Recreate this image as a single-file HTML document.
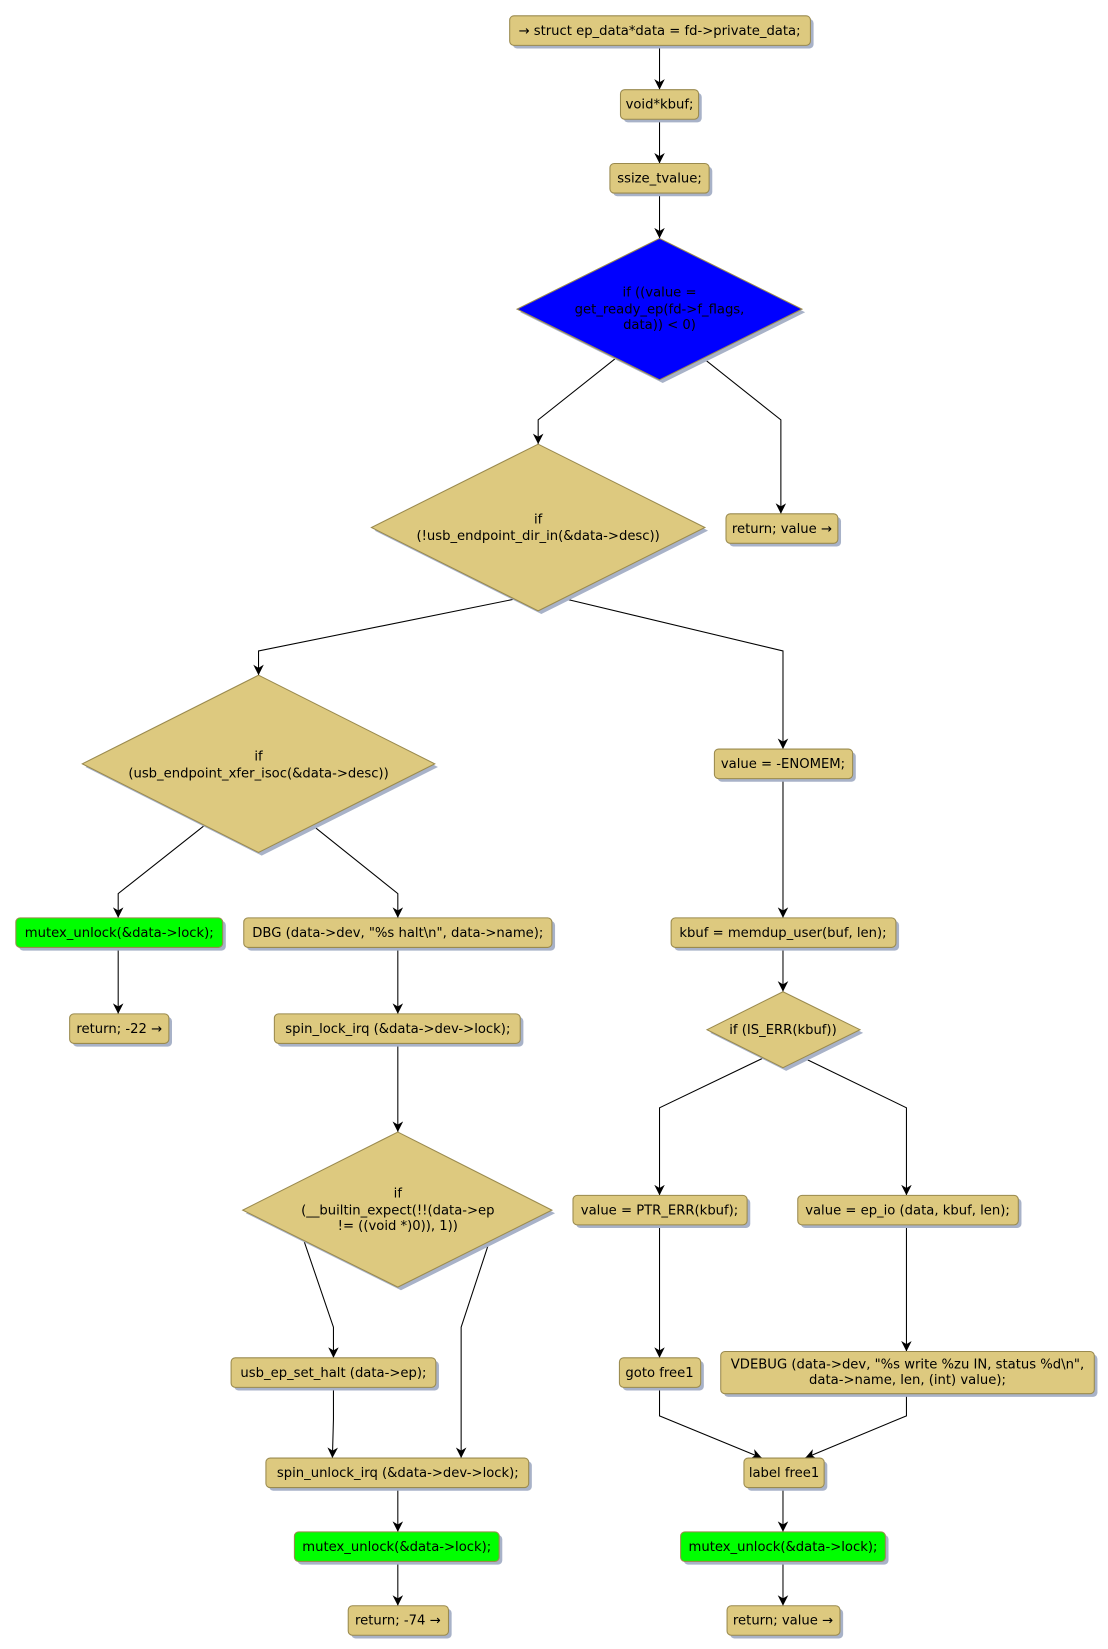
<!DOCTYPE html>
<html><head><meta charset="utf-8"><style>
html,body{margin:0;padding:0;background:#fff;}
svg{display:block;}
text{font-family:"DejaVu Sans","Liberation Sans",sans-serif;font-size:12.5px;fill:#000;text-anchor:middle;}
.b{fill:#ddc97f;stroke:#9a8a4e;stroke-width:1;}
.g{fill:#00ff00;stroke:#9a8a4e;stroke-width:1;}
.s{fill:#a8b2c8;}
.l{fill:none;stroke:#000;stroke-width:1;}
</style></head><body>
<svg width="1108" height="1649" viewBox="0 0 1050 1563" preserveAspectRatio="none" xmlns="http://www.w3.org/2000/svg">
<defs><marker id="a" markerWidth="12" markerHeight="12" refX="10" refY="5" orient="auto" markerUnits="userSpaceOnUse"><path d="M0,0 L10,5 L0,10 L3,5 Z" fill="#000"/></marker></defs>
<g id="edges">
<path class="l" marker-end="url(#a)" d="M625,43 V85"/>
<path class="l" marker-end="url(#a)" d="M625,113 V155"/>
<path class="l" marker-end="url(#a)" d="M625,183 V226"/>
<path class="l" marker-end="url(#a)" d="M583,340 L510,398 V421"/>
<path class="l" marker-end="url(#a)" d="M667,340 L740,398 V487"/>
<path class="l" marker-end="url(#a)" d="M487,568 L245,617 V640"/>
<path class="l" marker-end="url(#a)" d="M537,568 L742,617 V710"/>
<path class="l" marker-end="url(#a)" d="M193,783 L112,847 V870"/>
<path class="l" marker-end="url(#a)" d="M297,783 L377,847 V870"/>
<path class="l" marker-end="url(#a)" d="M112,898 V961"/>
<path class="l" marker-end="url(#a)" d="M377,898 V961"/>
<path class="l" marker-end="url(#a)" d="M377,989 V1073"/>
<path class="l" marker-end="url(#a)" d="M288,1176 L316,1258 V1287"/>
<path class="l" marker-end="url(#a)" d="M464,1176 L437,1258 V1382"/>
<path class="l" marker-end="url(#a)" d="M316,1315 V1345 L315,1382"/>
<path class="l" marker-end="url(#a)" d="M377,1410 V1452"/>
<path class="l" marker-end="url(#a)" d="M377,1480 V1522"/>
<path class="l" marker-end="url(#a)" d="M742,738 V870"/>
<path class="l" marker-end="url(#a)" d="M742,898 V940"/>
<path class="l" marker-end="url(#a)" d="M725,1002 L625,1050 V1133"/>
<path class="l" marker-end="url(#a)" d="M760,1002 L859,1050 V1133"/>
<path class="l" marker-end="url(#a)" d="M625,1161 V1287"/>
<path class="l" marker-end="url(#a)" d="M859,1161 V1281"/>
<path class="l" marker-end="url(#a)" d="M625,1315 V1342 L722,1382"/>
<path class="l" marker-end="url(#a)" d="M859,1321 V1342 L763,1382"/>
<path class="l" marker-end="url(#a)" d="M742,1410 V1452"/>
<path class="l" marker-end="url(#a)" d="M742,1480 V1522"/>
</g>
<g id="nodes">
<rect class="s" x="486" y="18" width="285" height="28" rx="4"/><rect class="b" x="483" y="15" width="285" height="28" rx="4"/><text x="625" y="33">→ struct ep_data*data = fd-&gt;private_data;</text>
<rect class="s" x="591" y="88" width="74" height="28" rx="4"/><rect class="b" x="588" y="85" width="74" height="28" rx="4"/><text x="625" y="103">void*kbuf;</text>
<rect class="s" x="581" y="158" width="94" height="28" rx="4"/><rect class="b" x="578" y="155" width="94" height="28" rx="4"/><text x="625" y="173">ssize_tvalue;</text>
<polygon class="s" points="628,229 763,296 628,363 493,296"/><polygon fill="#0000ff" stroke="#9a8a4e" points="625,226 760,293 625,360 490,293"/>
<text x="625" y="281">if ((value =</text><text x="625" y="297">get_ready_ep(fd-&gt;f_flags,</text><text x="625" y="312">data)) &lt; 0)</text>
<rect class="s" x="691" y="490" width="106" height="28" rx="4"/><rect class="b" x="688" y="487" width="106" height="28" rx="4"/><text x="741" y="505">return; value →</text>
<polygon class="s" points="513,424 671,503 513,582 355,503"/><polygon class="b" points="510,421 668,500 510,579 352,500"/>
<text x="510" y="496">if</text><text x="510" y="512">(!usb_endpoint_dir_in(&amp;data-&gt;desc))</text>
<polygon class="s" points="248,643 415,727 248,811 81,727"/><polygon class="b" points="245,640 412,724 245,808 78,724"/>
<text x="245" y="721">if</text><text x="245" y="737">(usb_endpoint_xfer_isoc(&amp;data-&gt;desc))</text>
<rect class="s" x="18" y="873" width="196" height="28" rx="4"/><rect class="g" x="15" y="870" width="196" height="28" rx="4"/><text x="113" y="888">mutex_unlock(&amp;data-&gt;lock);</text>
<rect class="s" x="69" y="964" width="94" height="28" rx="4"/><rect class="b" x="66" y="961" width="94" height="28" rx="4"/><text x="113" y="979">return; -22 →</text>
<rect class="s" x="234" y="873" width="292" height="28" rx="4"/><rect class="b" x="231" y="870" width="292" height="28" rx="4"/><text x="377" y="888">DBG (data-&gt;dev, "%s halt\n", data-&gt;name);</text>
<rect class="s" x="263" y="964" width="233" height="28" rx="4"/><rect class="b" x="260" y="961" width="233" height="28" rx="4"/><text x="377" y="979">spin_lock_irq (&amp;data-&gt;dev-&gt;lock);</text>
<polygon class="s" points="380,1076 526,1150 380,1223 233,1150"/><polygon class="b" points="377,1073 523,1147 377,1220 230,1147"/>
<text x="377" y="1135">if</text><text x="377" y="1151">(__builtin_expect(!!(data-&gt;ep</text><text x="377" y="1166">!= ((void *)0)), 1))</text>
<rect class="s" x="222" y="1290" width="194" height="28" rx="4"/><rect class="b" x="219" y="1287" width="194" height="28" rx="4"/><text x="316" y="1305">usb_ep_set_halt (data-&gt;ep);</text>
<rect class="s" x="255" y="1385" width="249" height="28" rx="4"/><rect class="b" x="252" y="1382" width="249" height="28" rx="4"/><text x="377" y="1400">spin_unlock_irq (&amp;data-&gt;dev-&gt;lock);</text>
<rect class="s" x="282" y="1455" width="194" height="28" rx="4"/><rect class="g" x="279" y="1452" width="194" height="28" rx="4"/><text x="376" y="1470">mutex_unlock(&amp;data-&gt;lock);</text>
<rect class="s" x="333" y="1525" width="95" height="28" rx="4"/><rect class="b" x="330" y="1522" width="95" height="28" rx="4"/><text x="377" y="1540">return; -74 →</text>
<rect class="s" x="680" y="713" width="131" height="28" rx="4"/><rect class="b" x="677" y="710" width="131" height="28" rx="4"/><text x="742" y="728">value = -ENOMEM;</text>
<rect class="s" x="639" y="873" width="213" height="28" rx="4"/><rect class="b" x="636" y="870" width="213" height="28" rx="4"/><text x="742" y="888">kbuf = memdup_user(buf, len);</text>
<polygon class="s" points="745,943 818,979 745,1015 673,979"/><polygon class="b" points="742,940 815,976 742,1012 670,976"/>
<text x="742" y="980">if (IS_ERR(kbuf))</text>
<rect class="s" x="546" y="1136" width="165" height="28" rx="4"/><rect class="b" x="543" y="1133" width="165" height="28" rx="4"/><text x="625" y="1151">value = PTR_ERR(kbuf);</text>
<rect class="s" x="759" y="1136" width="209" height="28" rx="4"/><rect class="b" x="756" y="1133" width="209" height="28" rx="4"/><text x="860" y="1151">value = ep_io (data, kbuf, len);</text>
<rect class="s" x="590" y="1290" width="77" height="28" rx="4"/><rect class="b" x="587" y="1287" width="77" height="28" rx="4"/><text x="625" y="1305">goto free1</text>
<rect class="s" x="686" y="1284" width="354" height="40" rx="4"/><rect class="b" x="683" y="1281" width="354" height="40" rx="4"/><text x="860" y="1297">VDEBUG (data-&gt;dev, "%s write %zu IN, status %d\n",</text><text x="860" y="1312">data-&gt;name, len, (int) value);</text>
<rect class="s" x="708" y="1385" width="76" height="28" rx="4"/><rect class="b" x="705" y="1382" width="76" height="28" rx="4"/><text x="743" y="1400">label free1</text>
<rect class="s" x="648" y="1455" width="194" height="28" rx="4"/><rect class="g" x="645" y="1452" width="194" height="28" rx="4"/><text x="742" y="1470">mutex_unlock(&amp;data-&gt;lock);</text>
<rect class="s" x="692" y="1525" width="107" height="28" rx="4"/><rect class="b" x="689" y="1522" width="107" height="28" rx="4"/><text x="742" y="1540">return; value →</text>
</g>
</svg>
</body></html>
